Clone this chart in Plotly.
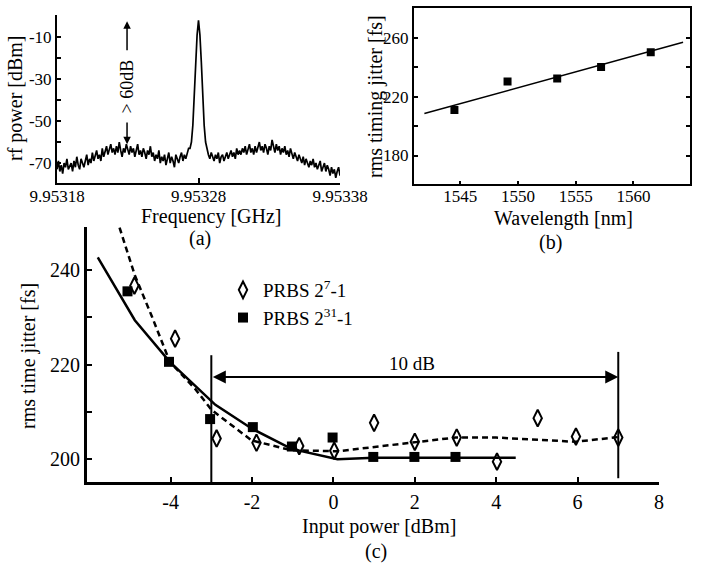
import plotly.graph_objects as go

FONT = "Liberation Serif, Times New Roman, serif"
W, H = 702, 563

# ---------------- (a) RF spectrum ----------------
f_start = 9.95318
f_step = 1e-6
rf_power = [
    -73, -69, -74, -71, -75, -70, -72, -68, -73, -71,
    -70, -74, -69, -72, -67, -71, -73, -68, -70, -72,
    -69, -66, -71, -68, -70, -65, -69, -67, -64, -68,
    -66, -69, -63, -67, -65, -62, -66, -64, -61, -65,
    -63, -66, -62, -65, -60, -64, -67, -63, -65, -61,
    -64, -66, -62, -65, -63, -67, -64, -61, -66, -64,
    -67, -63, -65, -68, -64, -66, -62, -67, -65, -69,
    -66, -68, -64, -70, -67, -69, -66, -71, -68, -65,
    -70, -67, -69, -72, -66, -68, -70, -67, -65, -69,
    -66, -68, -65, -63,
    -63, -60, -52, -38, -22, -9, -2, -9, -22, -38, -52, -60, -64,
    -66, -68, -65,
    -67, -69, -66, -68, -65, -70, -67, -66, -69, -67,
    -65, -68, -66, -64, -67, -65, -68, -63, -66, -64,
    -66, -63, -65, -62, -66, -64, -61, -65, -63, -66,
    -62, -65, -63, -60, -64, -62, -65, -61, -63, -66,
    -62, -64, -59, -63, -65, -61, -64, -62, -66, -63,
    -65, -62, -66, -64, -67, -63, -66, -68, -65, -67,
    -69, -66, -68, -70, -67, -71, -68, -70, -72, -69,
    -71, -68, -72, -70, -73, -71, -69, -74, -72, -70,
    -74, -71, -73, -76, -72, -75, -73, -77, -74, -72, -76,
]
freq = [f_start + i * f_step for i in range(len(rf_power))]
a_xticks = [9.95318, 9.95328, 9.95338]
a_xticktext = ["9.95318", "9.95328", "9.95338"]
a_yticks = [-70, -60, -50, -40, -30, -20, -10]
a_yticktext = ["-70", "", "-50", "", "-30", "", "-10"]
arrow_freq = 9.9532295

# ---------------- (b) jitter vs wavelength ----------------
wavelength = [1544.5, 1549.1, 1553.4, 1557.2, 1561.5]
jitter_b = [210.8, 230.2, 232.2, 240.1, 250.1]
wl_fit = [1541.9, 1564.3]
jit_fit = [208.5, 256.9]
b_yticks = [180, 200, 220, 240, 260]
b_yticktext = ["180", "", "220", "", "260"]
b_xticks = [1545, 1550, 1555, 1560]

# ---------------- (c) jitter vs input power ----------------
p7_x = [-4.89, -3.89, -2.87, -1.89, -0.84, 0.02, 1.0, 2.0, 3.03, 4.02, 5.02, 5.96, 7.0]
p7_y = [236.7, 225.5, 204.4, 203.5, 202.8, 201.8, 207.7, 203.7, 204.6, 199.5, 208.7, 204.8, 204.6]
p31_x = [-5.06, -4.04, -3.03, -1.98, -1.02, -0.02, 0.98, 1.99, 3.0]
p31_y = [235.5, 220.6, 208.5, 206.8, 202.7, 204.6, 200.5, 200.5, 200.5]
fit31_x = [-5.79, -4.88, -4.02, -2.9, -2.01, -1.03, 0.1, 1.0, 2.0, 3.0, 4.48]
fit31_y = [242.7, 229.4, 220.6, 211.5, 206.5, 202.2, 200.0, 200.3, 200.3, 200.3, 200.3]
fit7_x = [-5.33, -4.88, -4.47, -4.02, -3.4, -2.99, -2.01, -1.03, 0.11, 1.0, 2.0, 3.0, 4.0, 5.0, 5.95, 7.0]
fit7_y = [251.0, 238.9, 230.4, 220.6, 214.9, 210.4, 204.0, 201.9, 201.7, 202.6, 203.7, 204.6, 204.6, 204.2, 203.7, 204.7]
c_xticks = [-4, -2, 0, 2, 4, 6, 8]
c_xticktext = ["-4", "-2", "0", "2", "4", "6", "8"]
c_yticks = [200, 210, 220, 230, 240]
c_yticktext = ["200", "", "220", "", "240"]
range_lo, range_hi = -3, 7
range_y = 217.4


def px(x):
    return x / W


def py(y):
    return 1 - y / H


fig = go.Figure()

fig.add_trace(go.Scatter(x=freq, y=rf_power, mode="lines",
                         line=dict(color="black", width=1.7),
                         xaxis="x", yaxis="y", showlegend=False))

fig.add_trace(go.Scatter(x=wl_fit, y=jit_fit, mode="lines",
                         line=dict(color="black", width=1.5),
                         xaxis="x2", yaxis="y2", showlegend=False))
fig.add_trace(go.Scatter(x=wavelength, y=jitter_b, mode="markers",
                         marker=dict(symbol="square", size=8, color="black"),
                         xaxis="x2", yaxis="y2", showlegend=False))

fig.add_trace(go.Scatter(x=fit31_x, y=fit31_y, mode="lines",
                         line=dict(color="black", width=2.5),
                         xaxis="x3", yaxis="y3", showlegend=False))
fig.add_trace(go.Scatter(x=fit7_x, y=fit7_y, mode="lines",
                         line=dict(color="black", width=2.5, dash="6px,4px"),
                         xaxis="x3", yaxis="y3", showlegend=False))
fig.add_trace(go.Scatter(x=p7_x, y=p7_y, mode="markers", name="PRBS 2<sup>7</sup>-1",
                         marker=dict(symbol="diamond-tall-open", size=12, color="black",
                                     line=dict(width=2, color="black")),
                         xaxis="x3", yaxis="y3"))
fig.add_trace(go.Scatter(x=p31_x, y=p31_y, mode="markers", name="PRBS 2<sup>31</sup>-1",
                         marker=dict(symbol="square", size=10, color="black"),
                         xaxis="x3", yaxis="y3"))

tickfont_ab = dict(family=FONT, size=17, color="black")
tickfont_c = dict(family=FONT, size=20, color="black")

common = dict(showgrid=False, zeroline=False, automargin=False, tickcolor="black",
              linecolor="black", showline=True)

fig.update_layout(
    width=W, height=H,
    margin=dict(l=0, r=0, t=0, b=0, pad=0, autoexpand=False),
    paper_bgcolor="white", plot_bgcolor="white",
    font=dict(family=FONT, color="black"),
    xaxis=dict(domain=[px(57), px(340)], range=[9.95318, 9.95338], anchor="y",
               tickmode="array", tickvals=a_xticks, ticktext=a_xticktext,
               ticks="inside", ticklen=5, tickwidth=2, linewidth=2,
               ticklabelstandoff=-3, tickfont=tickfont_ab, **common),
    yaxis=dict(domain=[py(183), py(15)], range=[-79.5, 0.5], anchor="x",
               tickmode="array", tickvals=a_yticks, ticktext=a_yticktext,
               ticks="inside", ticklen=4, tickwidth=1.5, linewidth=2,
               tickfont=tickfont_ab, **common),
    xaxis2=dict(domain=[px(414), px(690)], range=[1541.0, 1564.9], anchor="y2",
                tickmode="array", tickvals=b_xticks,
                ticks="inside", ticklen=3, tickwidth=1.5, linewidth=2, mirror=True,
                ticklabelstandoff=-4, tickfont=tickfont_ab, **common),
    yaxis2=dict(domain=[py(183.5), py(8)], range=[161.0, 280.1], anchor="x2",
                tickmode="array", tickvals=b_yticks, ticktext=b_yticktext,
                ticks="inside", ticklen=4, tickwidth=1.5, linewidth=2, mirror="ticks",
                tickfont=tickfont_ab, **common),
    xaxis3=dict(domain=[px(87), px(659)], range=[-6.055, 8.001], anchor="y3",
                tickmode="array", tickvals=c_xticks, ticktext=c_xticktext,
                ticks="inside", ticklen=5, tickwidth=2, linewidth=3,
                tickfont=tickfont_c, **common),
    yaxis3=dict(domain=[py(482), py(227)], range=[195.2, 249.1], anchor="x3",
                tickmode="array", tickvals=c_yticks, ticktext=c_yticktext,
                ticks="inside", ticklen=5, tickwidth=2, linewidth=3,
                tickfont=tickfont_c, **common),
    legend=dict(x=px(223), y=py(271), xanchor="left", yanchor="top",
                bgcolor="rgba(0,0,0,0)", borderwidth=0,
                font=dict(family=FONT, size=19, color="black"),
                tracegroupgap=0),
)

annotations = [
    dict(text="rf power [dBm]", x=px(16), y=py(98), textangle=-90, font_size=20),
    dict(text="Frequency [GHz]", x=px(211), y=py(216), font_size=20),
    dict(text="(a)", x=px(200), y=py(239), font_size=20),
    dict(text="rms timing jitter [fs]", x=px(375), y=py(97), textangle=-90, font_size=20),
    dict(text="Wavelength [nm]", x=px(563), y=py(218), font_size=20),
    dict(text="(b)", x=px(550), y=py(242), font_size=20),
    dict(text="rms time jitter [fs]", x=px(28), y=py(356), textangle=-90, font_size=20),
    dict(text="Input power [dBm]", x=px(379), y=py(526), font_size=20),
    dict(text="(c)", x=px(376), y=py(551), font_size=20),
]
for a in annotations:
    a.update(xref="paper", yref="paper", showarrow=False,
             xanchor="center", yanchor="middle")
    a["font"] = dict(family=FONT, size=a.pop("font_size"), color="black")

annotations += [
    dict(x=arrow_freq, y=-2.5, ax=arrow_freq, ay=-17, xref="x", yref="y",
         axref="x", ayref="y", text="", showarrow=True, arrowhead=2,
         arrowsize=1, arrowwidth=1.5, arrowcolor="black", standoff=0),
    dict(x=arrow_freq, y=-61, ax=arrow_freq, ay=-50, xref="x", yref="y",
         axref="x", ayref="y", text="", showarrow=True, arrowhead=2,
         arrowsize=1, arrowwidth=1.5, arrowcolor="black", standoff=0),
    dict(x=arrow_freq, y=-33.5, xref="x", yref="y", text="> 60dB", textangle=-90,
         showarrow=False, font=dict(family=FONT, size=18, color="black")),
    dict(x=range_hi, y=range_y, ax=range_lo, ay=range_y, xref="x3", yref="y3",
         axref="x3", ayref="y3", text="", showarrow=True, arrowside="end+start",
         arrowhead=2, startarrowhead=2, arrowsize=1.3, startarrowsize=1.3,
         arrowwidth=2, arrowcolor="black", standoff=0, startstandoff=0),
    dict(x=1.93, y=220.3, xref="x3", yref="y3", text="10 dB", showarrow=False,
         font=dict(family=FONT, size=19, color="black")),
]
fig.update_layout(annotations=annotations)

fig.add_shape(type="line", xref="x3", yref="y3", x0=range_lo, x1=range_lo,
              y0=195.2, y1=222.0, line=dict(color="black", width=2))
fig.add_shape(type="line", xref="x3", yref="y3", x0=range_hi, x1=range_hi,
              y0=196.0, y1=222.7, line=dict(color="black", width=2))

fig.write_html("out.html", config={"responsive": False, "displayModeBar": False},
               post_script="document.body.style.margin='0';document.body.style.padding='0';")
